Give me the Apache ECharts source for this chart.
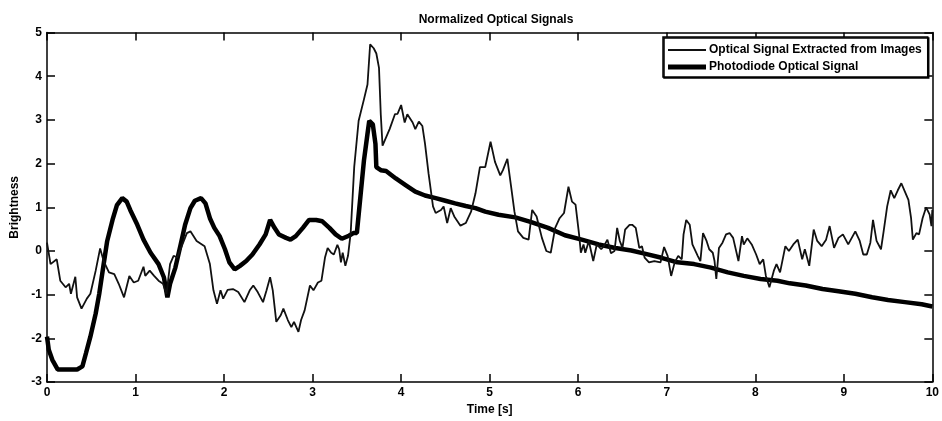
<!DOCTYPE html>
<html>
<head>
<meta charset="utf-8">
<script src="https://cdn.jsdelivr.net/npm/echarts@6/dist/echarts.min.js"></script>
<style>
  html, body { margin: 0; padding: 0; background: #fff; }
  #chart { width: 942px; height: 421px; }
</style>
</head>
<body>
<div id="chart"></div>
<script>
// optical signal extracted from images (thin line)
var imgTime = [0.00, 0.04, 0.11, 0.15, 0.21, 0.25, 0.27, 0.32, 0.34, 0.39, 0.45, 0.49, 0.55, 0.60, 0.64, 0.70, 0.76, 0.81, 0.87, 0.93,
  0.98, 1.03, 1.09, 1.11, 1.16, 1.21, 1.26, 1.31, 1.35, 1.39, 1.43, 1.47, 1.53, 1.58, 1.62, 1.69, 1.78, 1.84, 1.88, 1.92,
  1.96, 1.99, 2.04, 2.10, 2.16, 2.23, 2.29, 2.33, 2.38, 2.44, 2.48, 2.52, 2.55, 2.59, 2.64, 2.67, 2.72, 2.76, 2.79, 2.84,
  2.87, 2.91, 2.97, 3.01, 3.06, 3.10, 3.14, 3.17, 3.21, 3.24, 3.28, 3.30, 3.32, 3.34, 3.37, 3.40, 3.43, 3.47, 3.52, 3.58,
  3.62, 3.65, 3.69, 3.72, 3.75, 3.77, 3.79, 3.83, 3.87, 3.93, 3.96, 4.00, 4.04, 4.07, 4.13, 4.16, 4.20, 4.24, 4.27, 4.31,
  4.36, 4.39, 4.45, 4.48, 4.52, 4.56, 4.60, 4.67, 4.73, 4.79, 4.84, 4.89, 4.95, 5.01, 5.06, 5.12, 5.15, 5.20, 5.24, 5.28,
  5.32, 5.38, 5.44, 5.48, 5.53, 5.59, 5.64, 5.69, 5.74, 5.79, 5.84, 5.89, 5.93, 5.97, 6.01, 6.03, 6.06, 6.08, 6.12, 6.17,
  6.21, 6.26, 6.29, 6.33, 6.37, 6.41, 6.44, 6.47, 6.50, 6.53, 6.58, 6.61, 6.65, 6.69, 6.72, 6.75, 6.80, 6.86, 6.93, 6.97,
  7.01, 7.05, 7.09, 7.13, 7.17, 7.19, 7.22, 7.26, 7.29, 7.35, 7.38, 7.41, 7.45, 7.48, 7.52, 7.54, 7.56, 7.59, 7.63, 7.67,
  7.71, 7.75, 7.81, 7.85, 7.87, 7.91, 7.96, 8.01, 8.05, 8.09, 8.12, 8.16, 8.18, 8.21, 8.24, 8.28, 8.34, 8.38, 8.43, 8.48,
  8.53, 8.56, 8.61, 8.66, 8.70, 8.75, 8.80, 8.84, 8.89, 8.94, 8.99, 9.05, 9.13, 9.18, 9.22, 9.26, 9.30, 9.33, 9.37, 9.42,
  9.45, 9.49, 9.53, 9.57, 9.61, 9.65, 9.69, 9.73, 9.76, 9.78, 9.82, 9.85, 9.89, 9.93, 9.97, 9.99, 10.0];
var imgValue = [0.19, -0.30, -0.19, -0.68, -0.83, -0.75, -0.98, -0.59, -1.06, -1.32, -1.09, -0.98, -0.45, 0.06, -0.23, -0.49, -0.53, -0.75, -1.06, -0.57,
  -0.72, -0.68, -0.36, -0.57, -0.45, -0.57, -0.68, -0.75, -0.98, -0.30, -0.11, -0.15, 0.15, 0.41, 0.45, 0.23, 0.11, -0.30, -0.90, -1.21,
  -0.90, -1.09, -0.89, -0.87, -0.94, -1.17, -0.90, -0.79, -0.94, -1.17, -0.90, -0.60, -0.90, -1.62, -1.47, -1.32, -1.58, -1.74, -1.62, -1.85,
  -1.58, -1.36, -0.79, -0.90, -0.72, -0.68, -0.15, 0.07, -0.04, -0.08, 0.14, 0.04, -0.26, -0.04, -0.34, -0.11, 0.41, 1.92, 2.98, 3.47,
  3.81, 4.73, 4.64, 4.52, 4.19, 3.13, 2.41, 2.60, 2.79, 3.13, 3.14, 3.34, 2.94, 3.13, 2.94, 2.79, 2.96, 2.86, 2.45, 1.77,
  1.02, 0.87, 0.94, 1.02, 0.64, 0.98, 0.79, 0.58, 0.64, 0.90, 1.32, 1.92, 1.92, 2.50, 2.04, 1.73, 1.85, 2.11, 1.51, 0.90,
  0.45, 0.30, 0.26, 0.94, 0.79, 0.30, 0.00, -0.04, 0.53, 0.75, 0.87, 1.47, 1.13, 1.06, 0.38, -0.04, 0.15, -0.04, 0.23, -0.23,
  0.15, 0.04, 0.11, 0.26, -0.05, 0.00, 0.53, 0.23, 0.07, 0.49, 0.60, 0.60, 0.53, 0.07, 0.11, -0.15, -0.26, -0.23, -0.26, 0.09,
  -0.11, -0.57, -0.26, -0.11, -0.19, 0.38, 0.71, 0.60, 0.15, -0.11, -0.23, 0.41, 0.23, 0.04, -0.04, -0.23, -0.64, 0.07, 0.19, 0.38,
  0.41, 0.30, -0.23, 0.34, 0.15, 0.29, 0.15, -0.08, -0.30, -0.19, -0.57, -0.83, -0.83, -0.45, -0.30, -0.49, 0.11, 0.00, 0.15, 0.26,
  -0.19, 0.04, -0.34, 0.49, 0.23, 0.11, 0.26, 0.57, 0.07, 0.30, 0.38, 0.15, 0.45, 0.23, -0.08, -0.08, 0.19, 0.71, 0.23, 0.04,
  0.45, 1.02, 1.39, 1.21, 1.39, 1.55, 1.36, 1.17, 0.75, 0.26, 0.41, 0.38, 0.75, 1.00, 0.83, 0.57, 0.94];

// photodiode optical signal (thick line)
var pdTime = [0.00, 0.02, 0.06, 0.12, 0.19, 0.27, 0.34, 0.40, 0.44, 0.49, 0.55, 0.59, 0.64, 0.68, 0.74, 0.79, 0.85, 0.90, 0.94, 1.02,
  1.09, 1.17, 1.26, 1.32, 1.36, 1.39, 1.45, 1.51, 1.56, 1.62, 1.67, 1.74, 1.79, 1.84, 1.89, 1.95, 2.01, 2.06, 2.12, 2.18,
  2.25, 2.32, 2.40, 2.47, 2.52, 2.57, 2.62, 2.70, 2.75, 2.81, 2.89, 2.96, 3.04, 3.11, 3.19, 3.26, 3.33, 3.41, 3.46, 3.50,
  3.54, 3.58, 3.62, 3.64, 3.68, 3.71, 3.72, 3.77, 3.83, 3.94, 4.05, 4.16, 4.27, 4.39, 4.50, 4.61, 4.73, 4.84, 4.95, 5.10,
  5.29, 5.47, 5.66, 5.85, 6.04, 6.23, 6.42, 6.60, 6.75, 6.93, 7.12, 7.31, 7.50, 7.69, 7.87, 8.06, 8.25, 8.39, 8.57, 8.76,
  8.94, 9.13, 9.32, 9.50, 9.69, 9.88, 10.0];
var pdValue = [-1.96, -2.26, -2.49, -2.71, -2.71, -2.71, -2.71, -2.64, -2.34, -1.96, -1.43, -0.98, -0.30, 0.23, 0.71, 1.05, 1.21, 1.13, 0.94, 0.60,
  0.26, -0.04, -0.30, -0.60, -1.06, -0.75, -0.38, 0.15, 0.60, 0.98, 1.15, 1.21, 1.09, 0.75, 0.53, 0.34, 0.04, -0.26, -0.42, -0.34,
  -0.23, -0.08, 0.15, 0.38, 0.71, 0.53, 0.38, 0.30, 0.26, 0.34, 0.53, 0.71, 0.71, 0.68, 0.53, 0.38, 0.28, 0.35, 0.41, 0.41,
  1.24, 2.07, 2.68, 2.98, 2.90, 2.45, 1.92, 1.85, 1.83, 1.66, 1.51, 1.36, 1.27, 1.21, 1.15, 1.09, 1.03, 0.98, 0.90, 0.83,
  0.77, 0.66, 0.53, 0.36, 0.26, 0.15, 0.07, 0.01, -0.06, -0.15, -0.26, -0.30, -0.38, -0.49, -0.57, -0.64, -0.68, -0.74, -0.79, -0.87,
  -0.92, -0.98, -1.06, -1.12, -1.17, -1.22, -1.27];

var xTicks = { min: 0, max: 10, interval: 1 };
var yTicks = { min: -3, max: 5, interval: 1 };

function pairs(xs, ys) {
  return xs.map(function (x, i) { return [x, ys[i]]; });
}

var font = "'Liberation Sans', Arial, sans-serif";
var chart = echarts.init(document.getElementById("chart"));

var axisStyle = { onZero: false, lineStyle: { color: "#000", width: 1.5 } };
var tickStyle = { inside: true, length: 8, lineStyle: { color: "#000", width: 1.5 } };
var labelStyle = { color: "#000", fontFamily: font, fontWeight: "bold", fontSize: 12 };

var option = {
  backgroundColor: "#fff",
  animation: false,
  title: {
    text: "Normalized Optical Signals",
    left: 491,
    textAlign: "center",
    top: 9,
    textStyle: { color: "#000", fontFamily: font, fontWeight: "bold", fontSize: 12 }
  },
  legend: {
    orient: "vertical",
    left: 663,
    top: 37,
    padding: [7, 6, 4, 5],
    itemGap: 5,
    itemWidth: 38,
    itemHeight: 12,
    backgroundColor: "#fff",
    borderColor: "#000",
    borderWidth: 1.5,
    shadowColor: "#000",
    shadowOffsetX: 1,
    shadowOffsetY: 1,
    shadowBlur: 0,
    textStyle: { color: "#000", fontFamily: font, fontWeight: "bold", fontSize: 12, padding: [0, 0, 0, -2] },
    data: [
      { name: "Optical Signal Extracted from Images", icon: "path://M0,0L38,0L38,2L0,2Z" },
      { name: "Photodiode Optical Signal", icon: "path://M0,0L38,0L38,5L0,5Z" }
    ]
  },
  grid: { left: 47, right: 7, top: 32.5, bottom: 35.5 },
  xAxis: [
    {
      type: "value", min: xTicks.min, max: xTicks.max, interval: xTicks.interval,
      name: "Time [s]", nameLocation: "middle", nameGap: 20,
      nameTextStyle: labelStyle,
      axisLine: axisStyle, axisTick: tickStyle,
      axisLabel: Object.assign({ margin: 5 }, labelStyle),
      splitLine: { show: false }
    },
    {
      type: "value", position: "top", min: xTicks.min, max: xTicks.max, interval: xTicks.interval,
      axisLine: axisStyle, axisTick: tickStyle, axisLabel: { show: false }, splitLine: { show: false }
    }
  ],
  yAxis: [
    {
      type: "value", min: yTicks.min, max: yTicks.max, interval: yTicks.interval,
      name: "Brightness", nameLocation: "middle", nameGap: 19,
      nameTextStyle: labelStyle,
      axisLine: axisStyle, axisTick: tickStyle,
      axisLabel: Object.assign({ margin: 5 }, labelStyle),
      splitLine: { show: false }
    },
    {
      type: "value", position: "right", min: yTicks.min, max: yTicks.max, interval: yTicks.interval,
      axisLine: axisStyle, axisTick: tickStyle, axisLabel: { show: false }, splitLine: { show: false }
    }
  ],
  series: [
    {
      name: "Photodiode Optical Signal",
      type: "line",
      data: pairs(pdTime, pdValue),
      showSymbol: false,
      symbol: "none",
      lineStyle: { color: "#000", width: 4.5 },
      itemStyle: { color: "#000" }
    },
    {
      name: "Optical Signal Extracted from Images",
      type: "line",
      data: pairs(imgTime, imgValue),
      showSymbol: false,
      symbol: "none",
      lineStyle: { color: "#111", width: 1.8 },
      itemStyle: { color: "#111" }
    }
  ]
};

option && chart.setOption(option);
</script>
</body>
</html>
